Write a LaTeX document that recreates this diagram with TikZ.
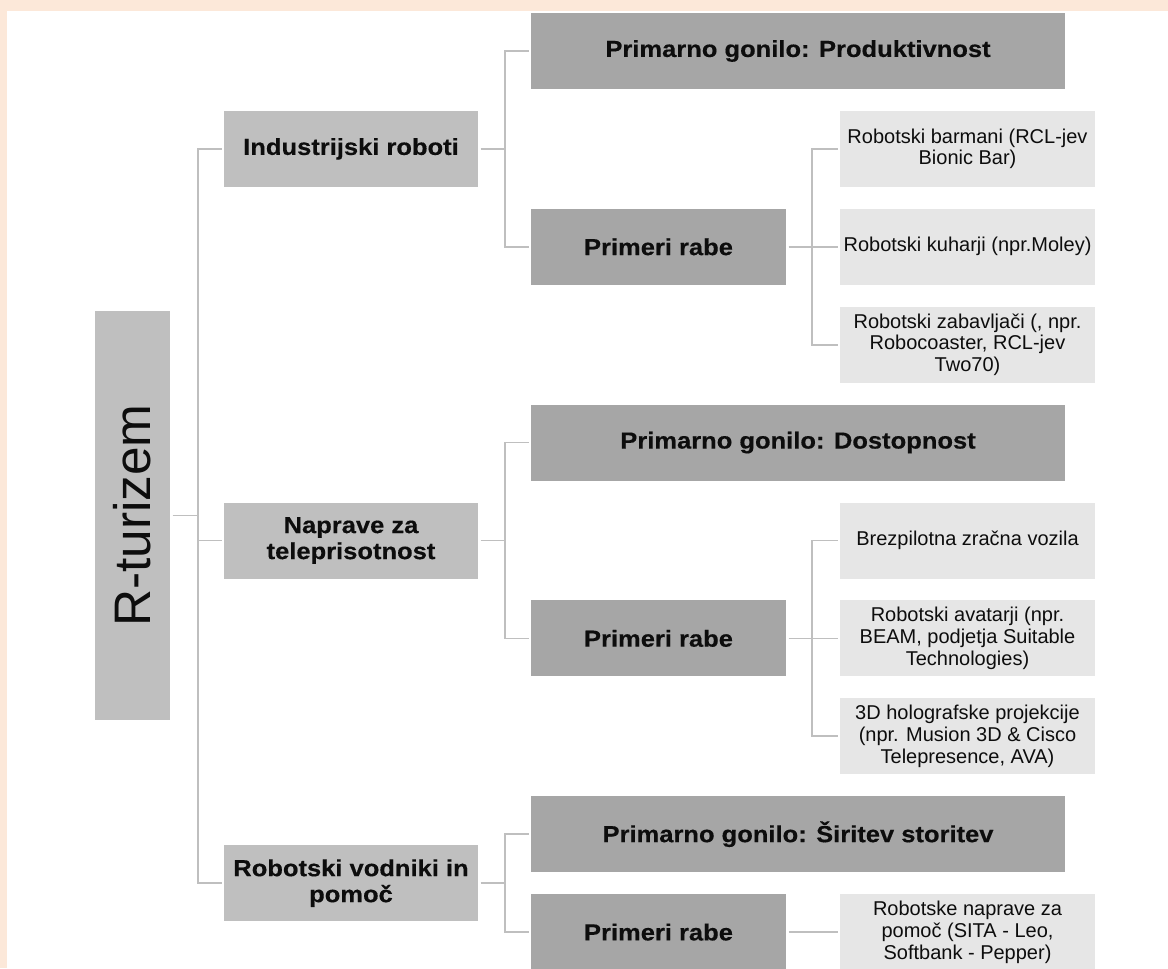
\documentclass[tikz,border=0pt]{standalone}
\usepackage{fontspec}
\setmainfont{Liberation Sans}
\newfontfamily\wbold{Liberation Sans}[FakeStretch=1.1,BoldFeatures={FakeBold=0.4}]
\usetikzlibrary{positioning}
\definecolor{peach}{HTML}{FCE8D9}
\definecolor{lvlA}{HTML}{BFBFBF}
\definecolor{lvlB}{HTML}{A6A6A6}
\definecolor{lvlC}{HTML}{E6E6E6}
\definecolor{conn}{HTML}{BFBFBF}
\definecolor{txt}{HTML}{0D0D0D}
\begin{document}
\begin{tikzpicture}[x=0.75pt,y=-0.75pt,
  box/.style={rectangle, inner sep=0pt, align=center, text=txt},
  rootbox/.style={box, fill=lvlA, minimum width=56.25pt, minimum height=306.75pt},
  onebox/.style={box, fill=lvlA, minimum width=190.5pt, minimum height=57pt,
     font=\wbold\bfseries\fontsize{17.4}{19.5}\selectfont},
  drvbox/.style={box, fill=lvlB, minimum width=400.5pt, minimum height=57pt,
     font=\wbold\bfseries\fontsize{17.4}{19.5}\selectfont},
  usebox/.style={box, fill=lvlB, minimum width=191.25pt, minimum height=57pt,
     font=\wbold\bfseries\fontsize{17.4}{19.5}\selectfont},
  leafbox/.style={box, fill=lvlC, minimum width=191.25pt, minimum height=57pt,
     font=\fontsize{15}{16.3}\selectfont},
  link/.style={draw=conn, line width=1.3pt, shorten <=2pt, shorten >=1.5pt}
]
\clip (0,0) rectangle (1168,968);
\fill[white] (0,0) rectangle (1168,968);
\fill[peach] (0,0) rectangle (1168,11);
\fill[peach] (0,0) rectangle (7,968);

% root
\node[rootbox] (root) at (132.5,515.5) {\rotatebox{90}{\fontsize{38.5}{40}\selectfont R-turizem}};

% level 1
\node[onebox] (ind) at (351,148.9) {Industrijski roboti};
\node[onebox] (nap) at (351,540.5) {Naprave za\\teleprisotnost};
\node[onebox] (vod) at (351,883.15) {Robotski vodniki in\\pomoč};

% level 2
\node[drvbox] (d1) at (798,51) {Primarno gonilo: Produktivnost};
\node[usebox] (u1) at (658.5,246.8) {Primeri rabe};
\node[drvbox] (d2) at (798,442.6) {Primarno gonilo: Dostopnost};
\node[usebox] (u2) at (658.5,638.4) {Primeri rabe};
\node[drvbox] (d3) at (798,834.2) {Primarno gonilo: Širitev storitev};
\node[usebox] (u3) at (658.5,932.1) {Primeri rabe};

% leaves
\node[leafbox] (l11) at (967.5,148.9) {Robotski barmani (RCL-jev\\Bionic Bar)};
\node[leafbox] (l12) at (967.5,246.8) {Robotski kuharji (npr.Moley)};
\node[leafbox] (l13) at (967.5,344.7) {Robotski zabavljači (, npr.\\Robocoaster, RCL-jev\\Two70)};
\node[leafbox] (l21) at (967.5,540.5) {Brezpilotna zračna vozila};
\node[leafbox] (l22) at (967.5,638.4) {Robotski avatarji (npr.\\BEAM, podjetja Suitable\\Technologies)};
\node[leafbox] (l23) at (967.5,736.3) {3D holografske projekcije\\(npr. Musion 3D \& Cisco\\Telepresence, AVA)};
\node[leafbox] (l31) at (967.5,932.1) {Robotske naprave za\\pomoč (SITA - Leo,\\Softbank - Pepper)};

% connectors
\foreach \c in {ind,nap,vod}
  \draw[link] (root.east) -- ++(28,0) |- (\c.west);
\foreach \c in {d1,u1}
  \draw[link] (ind.east) -- ++(27,0) |- (\c.west);
\foreach \c in {d2,u2}
  \draw[link] (nap.east) -- ++(27,0) |- (\c.west);
\foreach \c in {d3,u3}
  \draw[link] (vod.east) -- ++(27,0) |- (\c.west);
\foreach \c in {l11,l12,l13}
  \draw[link] (u1.east) -- ++(26,0) |- (\c.west);
\foreach \c in {l21,l22,l23}
  \draw[link] (u2.east) -- ++(26,0) |- (\c.west);
\draw[link] (u3.east) -- (l31.west);
\end{tikzpicture}
\end{document}
